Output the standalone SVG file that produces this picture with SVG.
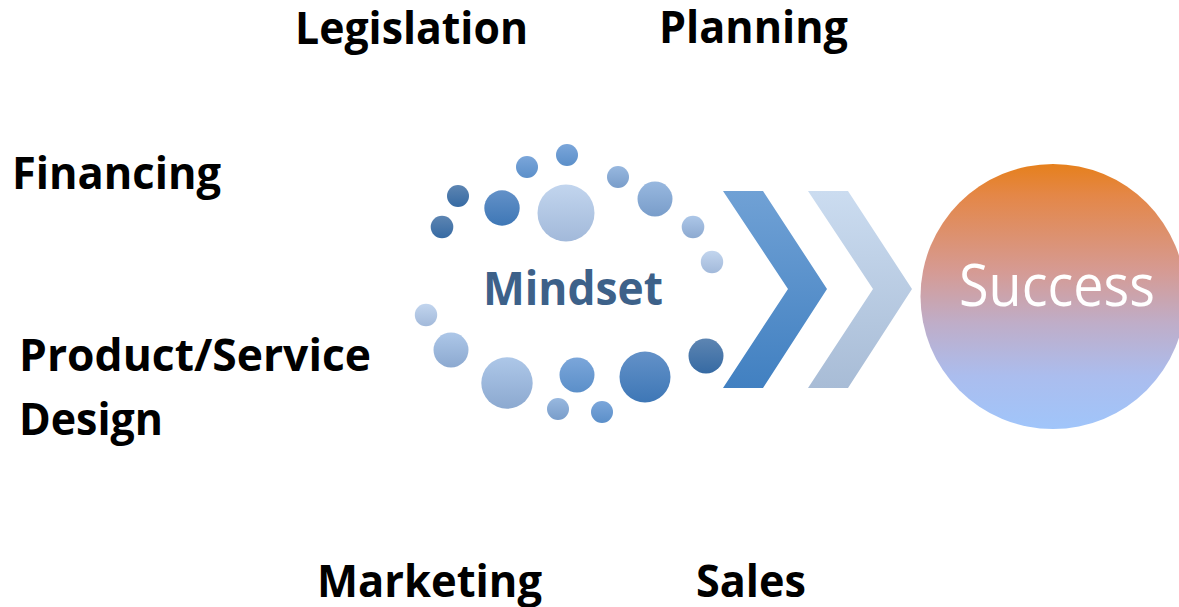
<svg xmlns="http://www.w3.org/2000/svg" width="1179" height="607" viewBox="0 0 1179 607">
<defs>
<style>
.lbl{font-family:"Open Sans","Liberation Sans",sans-serif;font-weight:700;font-size:45px;fill:#000}
.mind{font-family:"Open Sans","Liberation Sans",sans-serif;font-weight:700;font-size:46px;fill:#3d6189}
.succ{font-family:"Open Sans","Liberation Sans",sans-serif;font-weight:400;font-size:58px;fill:#fff}
</style>
<linearGradient id="gDark" x1="0" y1="0" x2="0" y2="1"><stop offset="0" stop-color="#5d85b2"/><stop offset="1" stop-color="#366aa3"/></linearGradient>
<linearGradient id="gBlue" x1="0" y1="0" x2="0" y2="1"><stop offset="0" stop-color="#6391c8"/><stop offset="1" stop-color="#3e77b6"/></linearGradient>
<linearGradient id="gMid" x1="0" y1="0" x2="0" y2="1"><stop offset="0" stop-color="#7ba6da"/><stop offset="1" stop-color="#5b8fc9"/></linearGradient>
<linearGradient id="gMidL" x1="0" y1="0" x2="0" y2="1"><stop offset="0" stop-color="#98b8df"/><stop offset="1" stop-color="#799dca"/></linearGradient>
<linearGradient id="gLight" x1="0" y1="0" x2="0" y2="1"><stop offset="0" stop-color="#adc7e8"/><stop offset="1" stop-color="#8ca9d0"/></linearGradient>
<linearGradient id="gPale" x1="0" y1="0" x2="0" y2="1"><stop offset="0" stop-color="#c2d5ee"/><stop offset="1" stop-color="#a2b9da"/></linearGradient>
<linearGradient id="gChev1" x1="0" y1="0" x2="0" y2="1"><stop offset="0" stop-color="#70a1d5"/><stop offset="1" stop-color="#4180c1"/></linearGradient>
<linearGradient id="gChev2" x1="0" y1="0" x2="0" y2="1"><stop offset="0" stop-color="#cbdcf0"/><stop offset="1" stop-color="#a8bcd6"/></linearGradient>
<linearGradient id="gSucc" x1="0" y1="0" x2="0" y2="1">
<stop offset="0" stop-color="#e6801c"/><stop offset="0.12" stop-color="#e48748"/><stop offset="0.4" stop-color="#d69a92"/><stop offset="0.6" stop-color="#bfadc8"/><stop offset="0.8" stop-color="#abbdee"/><stop offset="1" stop-color="#a0c5fa"/>
</linearGradient>
</defs>
<rect width="1179" height="607" fill="#fff"/>

<g id="labels">
<text class="lbl" x="295" y="44" textLength="233" lengthAdjust="spacingAndGlyphs">Legislation</text>
<text class="lbl" x="659" y="43" textLength="189" lengthAdjust="spacingAndGlyphs">Planning</text>
<text class="lbl" x="12" y="189" textLength="209" lengthAdjust="spacingAndGlyphs">Financing</text>
<text class="lbl" x="19" y="371" textLength="352" lengthAdjust="spacingAndGlyphs">Product/Service</text>
<text class="lbl" x="19" y="435" textLength="144" lengthAdjust="spacingAndGlyphs">Design</text>
<text class="lbl" x="317" y="597" textLength="225" lengthAdjust="spacingAndGlyphs">Marketing</text>
<text class="lbl" x="696" y="597" textLength="110" lengthAdjust="spacingAndGlyphs">Sales</text>
</g>

<g id="mindset">
<circle cx="567" cy="155" r="11" fill="url(#gMid)"/>
<circle cx="527" cy="167" r="11" fill="url(#gMid)"/>
<circle cx="618" cy="177" r="11" fill="url(#gMidL)"/>
<circle cx="458" cy="196" r="11" fill="url(#gDark)"/>
<circle cx="502" cy="208" r="17.7" fill="url(#gBlue)"/>
<circle cx="566" cy="213" r="28.5" fill="url(#gPale)"/>
<circle cx="655" cy="199" r="17.5" fill="url(#gMidL)"/>
<circle cx="442" cy="227" r="11.3" fill="url(#gDark)"/>
<circle cx="693" cy="227" r="11.3" fill="url(#gLight)"/>
<circle cx="712" cy="262" r="11.2" fill="url(#gPale)"/>
<circle cx="426" cy="315" r="11.2" fill="url(#gPale)"/>
<circle cx="451" cy="350" r="17.5" fill="url(#gLight)"/>
<circle cx="706" cy="356" r="17.5" fill="url(#gDark)"/>
<circle cx="507" cy="383" r="25.7" fill="url(#gLight)"/>
<circle cx="577" cy="375" r="17.5" fill="url(#gMid)"/>
<circle cx="645" cy="377" r="25.5" fill="url(#gBlue)"/>
<circle cx="558" cy="409" r="11" fill="url(#gMidL)"/>
<circle cx="602" cy="412" r="11" fill="url(#gMid)"/>
<text class="mind" x="483" y="305" textLength="180" lengthAdjust="spacingAndGlyphs">Mindset</text>
</g>

<g id="chevrons">
<polygon points="723,191 763,191 827,289 763,388 723,388 788,289" fill="url(#gChev1)"/>
<polygon points="808,191 848,191 912,289 848,388 808,388 873,289" fill="url(#gChev2)"/>
</g>

<g id="success">
<circle cx="1053" cy="296.5" r="132.5" fill="url(#gSucc)"/>
<text class="succ" x="959" y="306" textLength="196" lengthAdjust="spacingAndGlyphs">Success</text>
</g>
</svg>
